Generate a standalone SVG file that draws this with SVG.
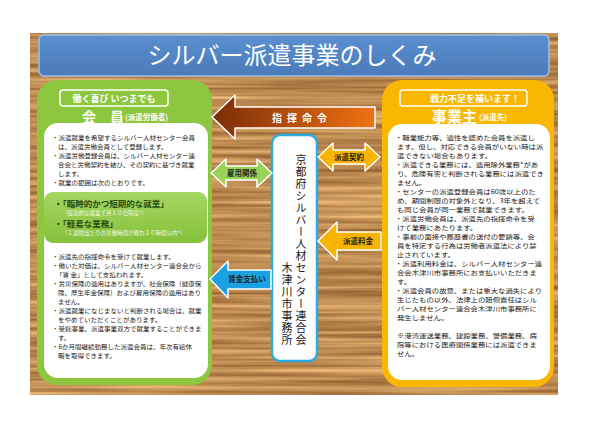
<svg xmlns="http://www.w3.org/2000/svg" width="600" height="424" viewBox="0 0 600 424">
<defs>
<filter id="wood" x="0" y="0" width="1" height="1" color-interpolation-filters="sRGB">
<feTurbulence type="fractalNoise" baseFrequency="0.004 0.22" numOctaves="3" seed="3"/>
<feColorMatrix type="matrix" values="0.55 0 0 0 0.47  0.55 0 0 0 0.27  0.45 0 0 0 0.1  0 0 0 0 1"/>
</filter>
<linearGradient id="gCmd" x1="0" y1="0" x2="1" y2="0">
<stop offset="0" stop-color="#7a2c08"/>
<stop offset="1" stop-color="#f07212"/>
</linearGradient>
<linearGradient id="gTitle" x1="0" y1="0" x2="0" y2="1">
<stop offset="0" stop-color="#5b8fcf"/>
<stop offset="1" stop-color="#4a7bba"/>
</linearGradient>
<linearGradient id="gHi" x1="0" y1="0" x2="0" y2="1">
<stop offset="0" stop-color="#a5d662"/>
<stop offset="1" stop-color="#86c13a"/>
</linearGradient>
<style>
.jp{font-family:"Noto Sans CJK JP","Noto Sans CJK SC",sans-serif;}
.lb{font-size:6.2px;fill:#231815;}
.rb{font-size:6.2px;fill:#231815;}
.hd{font-weight:bold;fill:#fff;}
.al{font-size:7.5px;font-weight:bold;fill:#1e1e1e;text-anchor:middle;}
.arr{stroke:#fff;stroke-width:1.5;stroke-linejoin:round;}
.vt{font-size:11px;fill:#231815;writing-mode:vertical-rl;letter-spacing:1px;}
</style>
</defs>
<rect width="600" height="424" fill="#fff"/>
<g id="background">
<rect x="30" y="33" width="528" height="362" filter="url(#wood)"/>
</g>
<g id="title">
<rect x="39" y="35" width="510" height="41" rx="5" fill="url(#gTitle)" stroke="#9cc0ea" stroke-width="1.5"/>
<text x="292" y="64" class="jp" font-size="24" fill="#fff" text-anchor="middle">シルバー派遣事業のしくみ</text>
</g>
<g id="member">
<rect x="37" y="80" width="175" height="305" rx="20" fill="#8dc63f"/>
<rect x="60" y="90" width="108" height="16" rx="3" fill="none" stroke="#fff" stroke-width="1.5"/>
<text x="114" y="101.5" class="jp hd" font-size="9" text-anchor="middle">働く喜び いつまでも</text>
<text x="82" y="122" class="jp hd" font-size="14">会　員</text>
<text x="125" y="120" class="jp hd" font-size="7.5">(派遣労働者)</text>
<rect x="44" y="123" width="164" height="255" rx="14" fill="#fff"/>
<g class="jp lb" transform="translate(52,0) scale(1.05,1)">
<text x="0" y="140">・派遣就業を希望するシルバー人材センター会員</text>
<text x="5.7" y="149">は、派遣労働会員として登録します。</text>
<text x="0" y="158">・派遣労働登録会員は、シルバー人材センター連</text>
<text x="5.7" y="167">合会と労働契約を結び、その契約に基づき就業</text>
<text x="5.7" y="176">します。</text>
<text x="0" y="185">・就業の範囲は次のとおりです。</text>
</g>
<rect x="44" y="192" width="163" height="51" rx="9" fill="url(#gHi)"/>
<text x="54" y="207" class="jp" font-size="8.5" font-weight="bold" fill="#2a4d12">・「臨時的かつ短期的な就業」</text>
<text x="62" y="215" class="jp" font-size="5.5" fill="#f2f7ea">（任意的な就業で月１０日程度*）</text>
<text x="54" y="227" class="jp" font-size="8.5" font-weight="bold" fill="#2a4d12">・「軽易な業務」</text>
<text x="62" y="235" class="jp" font-size="5.5" fill="#f2f7ea">（１週間当たりの労働時間が概ね２０時間以内*）</text>
<g class="jp lb" transform="translate(52,0) scale(1.05,1)">
<text x="0" y="259">・派遣先の指揮命令を受けて就業します。</text>
<text x="0" y="268">・働いた対価は、シルバー人材センター連合会から</text>
<text x="3.8" y="277">「賃 金」として支払われます。</text>
<text x="0" y="286">・労災保険の適用はありますが、社会保険（健康保</text>
<text x="5.7" y="295">険、厚生年金保険）および雇用保険の適用はあり</text>
<text x="5.7" y="304">ません。</text>
<text x="0" y="313">・派遣就業になじまないと判断される場合は、就業</text>
<text x="5.7" y="322">をやめていただくことがあります。</text>
<text x="0" y="331">・受託事業、派遣事業双方で就業することができま</text>
<text x="5.7" y="340">す。</text>
<text x="0" y="349">・6か月間継続勤務した派遣会員は、年次有給休</text>
<text x="5.7" y="358">暇を取得できます。</text>
</g>
</g>
<g id="employer">
<rect x="382" y="80" width="172" height="307" rx="20" fill="#f9b700"/>
<rect x="400" y="90" width="127" height="16" rx="3" fill="none" stroke="#fff" stroke-width="1.5"/>
<text x="475" y="101.5" class="jp hd" font-size="9" text-anchor="middle">戦力不足を補います！</text>
<text x="432" y="122" class="jp hd" font-size="15">事業主</text>
<text x="479" y="120" class="jp hd" font-size="7.5">(派遣先)</text>
<rect x="388" y="124" width="162" height="256" rx="14" fill="#fff"/>
<g class="jp rb" transform="translate(395,0) scale(1.19,1)">
<text x="0" y="140.5">・職業能力等、適性を認めた会員を派遣し</text>
<text x="1.7" y="149.5">ます。但し、対応できる会員がいない時は派</text>
<text x="1.7" y="158.5">遣できない場合もあります。</text>
<text x="0" y="167.5">・派遣できる業務には、適用除外業務*があ</text>
<text x="1.7" y="176.5">り、危険有害と判断される業務には派遣でき</text>
<text x="1.7" y="185.5">ません。</text>
<text x="0" y="194.5">・センターの派遣登録会員は60歳以上のた</text>
<text x="1.7" y="203.5">め、期間制限の対象外となり、3年を超えて</text>
<text x="1.7" y="212.5">も同じ会員が同一業務で就業できます。</text>
<text x="0" y="221.5">・派遣労働会員は、派遣先の指揮命令を受</text>
<text x="1.7" y="230.5">けて業務にあたります。</text>
<text x="0" y="239.5">・事前の面接や履歴書の送付の要請等、会</text>
<text x="1.7" y="248.5">員を特定する行為は労働者派遣法により禁</text>
<text x="1.7" y="257.5">止されています。</text>
<text x="0" y="266.5">・派遣利用料金は、シルバー人材センター連</text>
<text x="1.7" y="275.5">合会木津川市事務所にお支払いいただきま</text>
<text x="1.7" y="284.5">す。</text>
<text x="0" y="293.5">・派遣会員の故意、または重大な過失により</text>
<text x="1.7" y="302.5">生じたもの以外、法律上の賠償責任はシル</text>
<text x="1.7" y="311.5">バー人材センター連合会木津川市事務所に</text>
<text x="1.7" y="320.5">発生しません。</text>
<text x="1.7" y="338.5">※港湾運送業務、建設業務、警備業務、病</text>
<text x="1.7" y="347.5">院等における医療関係業務には派遣できま</text>
<text x="1.7" y="356.5">せん。</text>
</g>
</g>
<g id="center">
<rect x="272" y="135" width="45" height="226" rx="8" fill="#fff" stroke="#29abe2" stroke-width="2.5"/>
<text x="301" y="154" class="jp vt">京都府シルバー人材センター連合会</text>
<text x="287" y="262" class="jp vt">木津川市事務所</text>
</g>
<g id="connectors">
<g id="cmd">
<polygon class="arr" points="212,117 235,95 235,107 375,107 375,128 235,128 235,139" fill="url(#gCmd)"/>
<text x="302" y="121.5" class="jp" font-size="10" font-weight="bold" fill="#fff" text-anchor="middle" letter-spacing="5">指揮命令</text>
</g>
<g id="employment">
<polygon class="arr" points="211,173 226,159 226,166 257,166 257,159 272,173 257,187 257,180 226,180 226,187" fill="#9bd25a"/>
<text x="242" y="176" class="jp al">雇用関係</text>
</g>
<g id="contract">
<polygon class="arr" points="318,157 333,143 333,150 365,150 365,143 380,157 365,171 365,164 333,164 333,171" fill="#f8b400"/>
<text x="349" y="160" class="jp al">派遣契約</text>
</g>
<g id="fee">
<polygon class="arr" points="318,241 337,222 337,232 381,232 381,250 337,250 337,260" fill="#f8b400"/>
<text x="358" y="244" class="jp al">派遣料金</text>
</g>
<g id="wage">
<polygon class="arr" points="210,279 228,261 228,270 271,270 271,289 228,289 228,298" fill="#1ba1e2"/>
<text x="247" y="282" class="jp al">賃金支払い</text>
</g>
</g>
</svg>
